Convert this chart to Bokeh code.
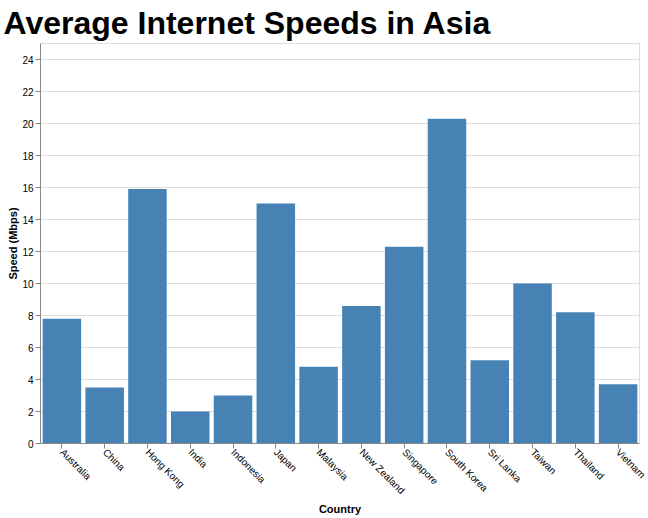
import math
from bokeh.plotting import figure
from bokeh.models import ColumnDataSource, FactorRange, Range1d, FixedTicker
from bokeh.embed import file_html
from bokeh.resources import INLINE

countries = ["Australia", "China", "Hong Kong", "India", "Indonesia", "Japan", "Malaysia",
             "New Zealand", "Singapore", "South Korea", "Sri Lanka", "Taiwan", "Thailand", "Vietnam"]
speeds = [7.8, 3.5, 15.9, 2.0, 3.0, 15.0, 4.8, 8.6, 12.3, 20.3, 5.2, 10.0, 8.2, 3.7]
y_ticks = [0, 2, 4, 6, 8, 10, 12, 14, 16, 18, 20, 22, 24]

FONT = "Liberation Sans"
FW, FH = 599, 400

source = ColumnDataSource(data=dict(country=countries, speed=speeds))

p = figure(
    x_range=FactorRange(*countries, range_padding=0),
    y_range=Range1d(0, 25),
    frame_width=FW, frame_height=FH,
    min_border_left=40, min_border_right=8, min_border_top=42, min_border_bottom=75,
    output_backend="svg", toolbar_location=None,
    title="Average Internet Speeds in Asia",
)

p.vbar(x="country", top="speed", width=0.9, source=source,
       fill_color="#4682b4", line_color=None)

p.title.text_font = FONT
p.title.text_font_size = "32px"
p.title.text_font_style = "bold"
p.title.text_color = "#000000"
p.title.align = "left"
p.title.offset = -37
p.title.standoff = 5

p.outline_line_color = "#dddddd"
p.outline_line_width = 1
p.background_fill_color = "white"
p.border_fill_color = "white"

p.xgrid.grid_line_color = None
p.ygrid.grid_line_color = "#dddddd"
p.yaxis.ticker = FixedTicker(ticks=y_ticks)

for ax in (p.xaxis[0], p.yaxis[0]):
    ax.axis_line_color = "#888888"
    ax.major_tick_line_color = "#888888"
    ax.major_tick_in = 0
    ax.major_tick_out = 5
    ax.minor_tick_line_color = None
    ax.major_label_text_font = FONT
    ax.major_label_text_font_size = "10px"
    ax.major_label_text_color = "#000000"
    ax.major_label_standoff = 2
    ax.axis_label_text_font = FONT
    ax.axis_label_text_font_size = "11px"
    ax.axis_label_text_font_style = "bold"
    ax.axis_label_text_color = "#000000"

p.yaxis.axis_label = "Speed (Mbps)"
p.yaxis.axis_label_standoff = 0
p.xaxis.axis_label = "Country"
p.xaxis.axis_label_standoff = 0
p.xaxis.major_label_orientation = -math.pi / 4

open("out.html", "w").write(file_html(p, INLINE))
